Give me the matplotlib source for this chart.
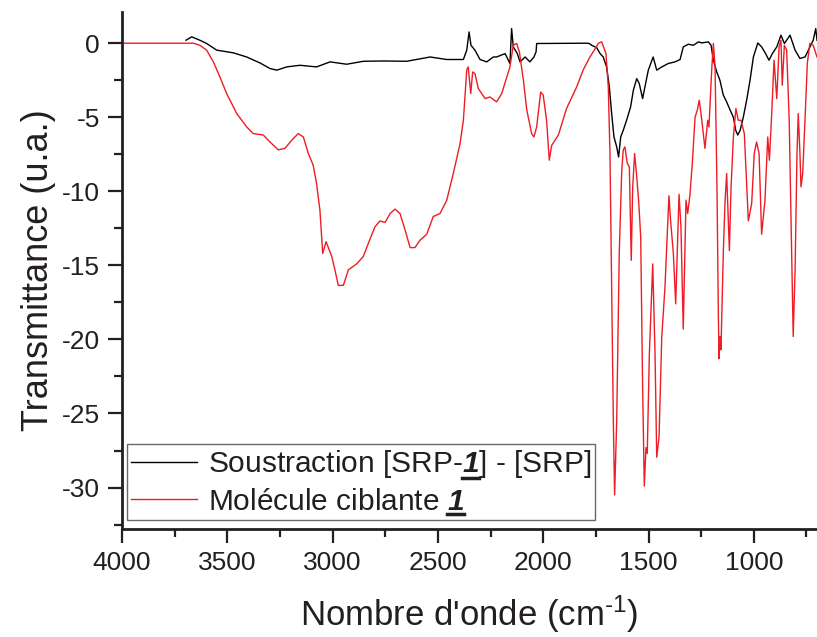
import matplotlib
matplotlib.use("Agg")
import matplotlib.pyplot as plt
from matplotlib.lines import Line2D
from matplotlib.ticker import MultipleLocator

plt.rcParams["font.family"] = ["Liberation Sans", "DejaVu Sans"]
plt.rcParams["mathtext.fontset"] = "custom"
plt.rcParams["mathtext.rm"] = "Liberation Sans"
plt.rcParams["mathtext.it"] = "Liberation Sans:italic"
plt.rcParams["mathtext.bf"] = "Liberation Sans:bold"
plt.rcParams["mathtext.bfit"] = "Liberation Sans:italic:bold"
plt.rcParams["mathtext.default"] = "regular"
plt.rcParams["axes.unicode_minus"] = False

TEXT_COLOR = "#231f20"

# Soustraction [SRP-1] - [SRP]  (wavenumber cm-1, transmittance u.a.)
sub_wn = [3696, 3669, 3630, 3598, 3550, 3471, 3408, 3345, 3297, 3265, 3218,
          3155, 3076, 3012, 2933, 2854, 2759, 2648, 2537, 2458, 2379, 2363,
          2352, 2343, 2324, 2300, 2268, 2237, 2221, 2181, 2158, 2150, 2142,
          2123, 2110, 2086, 2063, 2044, 2034, 2031, 1791, 1781, 1770, 1746,
          1730, 1715, 1699, 1686, 1675, 1664, 1651, 1642, 1632, 1620, 1604,
          1585, 1572, 1556, 1544, 1528, 1517, 1501, 1478, 1461, 1437, 1406,
          1374, 1350, 1335, 1311, 1287, 1263, 1247, 1216, 1203, 1192, 1176,
          1161, 1145, 1129, 1113, 1097, 1086, 1076, 1065, 1050, 1034, 1018,
          1002, 981, 963, 944, 928, 912, 891, 871, 855, 828, 804, 781, 757,
          741, 718, 706, 700]
sub_t = [0.2, 0.43, 0.2, -0.02, -0.47, -0.65, -0.93, -1.33, -1.71, -1.82,
         -1.6, -1.49, -1.6, -1.26, -1.42, -1.22, -1.2, -1.22, -0.93, -1.1,
         -1.1, -0.47, 0.76, -0.14, -0.47, -1.1, -1.26, -0.93, -0.93, -0.7,
         -1.37, 0.99, -0.25, -0.7, -1.26, -0.93, -1.26, -0.93, -0.59, -0.02,
         0.0, -0.02, -0.14, -0.3, -0.7, -0.93, -1.6, -2.95, -4.75, -6.33,
         -7.0, -7.68, -6.33, -5.88, -5.2, -4.3, -3.18, -2.39, -2.72, -3.74,
         -2.95, -1.82, -0.93, -1.82, -1.6, -1.37, -1.26, -1.1, -0.25, -0.07,
         -0.14, 0.09, 0.02, 0.09, -0.14, -1.15, -1.94, -2.5, -3.5, -3.96,
         -4.5, -5.0, -5.88, -6.2, -5.88, -5.0, -3.85, -2.5, -0.93, 0.02,
         -0.25, -0.7, -1.15, -0.7, -0.25, 0.54, -0.02, 0.54, -0.47, -1.03,
         -0.93, -0.47, 0.2, 0.99, 0.2]

# Molécule ciblante 1
mol_wn = [4000, 3661, 3630, 3598, 3566, 3535, 3503, 3455, 3408, 3377, 3329,
          3297, 3258, 3226, 3194, 3163, 3139, 3115, 3092, 3076, 3060, 3047,
          3031, 3004, 2989, 2973, 2949, 2925, 2886, 2854, 2830, 2799, 2775,
          2751, 2727, 2704, 2680, 2656, 2632, 2609, 2585, 2553, 2522, 2490,
          2458, 2427, 2395, 2379, 2363, 2356, 2344, 2335, 2324, 2308, 2276,
          2253, 2221, 2197, 2173, 2158, 2142, 2126, 2113, 2094, 2078, 2055,
          2044, 2031, 2012, 2000, 1984, 1971, 1960, 1928, 1889, 1841, 1810,
          1778, 1746, 1738, 1722, 1702, 1691, 1683, 1675, 1667, 1661, 1651,
          1639, 1627, 1620, 1612, 1601, 1591, 1582, 1575, 1566, 1556, 1547,
          1537, 1528, 1520, 1512, 1506, 1496, 1480, 1469, 1461, 1450, 1437,
          1422, 1403, 1395, 1382, 1371, 1355, 1346, 1335, 1322, 1314, 1303,
          1291, 1279, 1268, 1259, 1247, 1232, 1219, 1213, 1200, 1192, 1184,
          1175, 1168, 1165, 1161, 1156, 1145, 1137, 1129, 1116, 1108, 1097,
          1085, 1074, 1061, 1045, 1037, 1026, 1010, 998, 987, 975, 963, 947,
          934, 926, 915, 904, 891, 880, 871, 865, 855, 844, 832, 820, 813,
          804, 795, 789, 781, 776, 768, 757, 746, 734, 718, 700]
mol_t = [0.0, 0.0, -0.14, -0.47, -1.26, -2.28, -3.4, -4.75, -5.65, -6.1,
         -6.2, -6.67, -7.2, -7.1, -6.55, -6.1, -6.33, -7.45, -8.24, -9.48,
         -11.3, -14.2, -13.4, -14.4, -15.3, -16.35, -16.35, -15.3, -14.9,
         -14.4, -13.5, -12.4, -12.0, -12.1, -11.5, -11.2, -11.5, -12.6,
         -13.8, -13.8, -13.3, -12.9, -11.7, -11.5, -10.6, -8.8, -6.8, -5.2,
         -1.8, -1.6, -3.4, -1.94, -2.05, -3.06, -3.74, -3.63, -3.96, -3.4,
         -2.28, -1.6, -0.14, -0.02, -0.59, -2.5, -4.5, -6.1, -6.33, -5.65,
         -3.3, -3.5, -5.2, -7.9, -6.9, -6.2, -4.4, -2.95, -1.8, -0.93, -0.2,
         0.0, 0.09, -0.7, -2.95, -7.45, -16.5, -25.5, -30.5, -25.5, -14.2,
         -8.6, -7.2, -7.0, -8.1, -8.36, -14.66, -9.7, -7.45, -9.0, -10.6,
         -13.1, -23.2, -29.9, -27.3, -27.7, -21.0, -14.9, -21.0, -27.95,
         -26.6, -19.8, -16.5, -10.3, -12.0, -14.2, -17.6, -10.2, -12.4,
         -19.3, -10.6, -11.5, -10.2, -7.9, -5.0, -4.5, -3.85, -5.2, -7.1,
         -5.2, -5.65, -1.8, -0.02, -1.6, -9.7, -18.7, -21.3, -19.8, -20.7,
         -14.2, -10.8, -8.8, -14.0, -9.7, -6.33, -4.4, -5.2, -5.2, -6.1,
         -8.6, -12.0, -10.8, -7.45, -6.67, -7.45, -12.9, -10.6, -6.33, -7.9,
         -4.75, -1.15, -3.74, -0.25, 0.2, -2.84, -0.14, -0.47, -5.2, -14.2,
         -19.8, -15.3, -7.45, -4.75, -7.45, -9.7, -8.8, -5.2, -1.37, -0.02,
         -0.14, -0.93]

fig = plt.figure(figsize=(8.17, 6.37), dpi=100)
ax = fig.add_axes([0.1493, 0.1695, 0.8507, 0.8115])

ax.plot(sub_wn, sub_t, color="black", linewidth=1.0,
        label=r"Soustraction [SRP-$\mathbfit{1}$] - [SRP]")
ax.plot(mol_wn, mol_t, color="#ee1c24", linewidth=1.0,
        label=r"Molécule ciblante $\mathbfit{1}$")

ax.set_xlim(4000, 700)
ax.set_ylim(-32.8, 2.1)
ax.xaxis.set_major_locator(MultipleLocator(500))
ax.xaxis.set_minor_locator(MultipleLocator(250))
ax.yaxis.set_major_locator(MultipleLocator(5))
ax.yaxis.set_minor_locator(MultipleLocator(2.5))

for side in ("top", "right"):
    ax.spines[side].set_visible(False)
for side in ("left", "bottom"):
    ax.spines[side].set_linewidth(2.0)
    ax.spines[side].set_color(TEXT_COLOR)

ax.tick_params(which="major", direction="out", length=10, width=1.6,
               labelsize=19, colors=TEXT_COLOR, pad=6)
ax.tick_params(which="minor", direction="out", length=6, width=1.6,
               colors=TEXT_COLOR)

ax.set_xlabel(r"Nombre d'onde (cm$^{\text{-}1}$)", fontsize=25,
              color=TEXT_COLOR, labelpad=13)
ax.set_ylabel("Transmittance (u.a.)", fontsize=26, color=TEXT_COLOR,
              labelpad=4)

leg = ax.legend(loc="lower left", bbox_to_anchor=(0.0072, 0.0174),
                borderaxespad=0, fontsize=21.5, frameon=True, fancybox=False,
                edgecolor="#444444", handlelength=2.2, handletextpad=0.35,
                labelspacing=0.25, borderpad=0.15)
leg.get_frame().set_linewidth(1.0)
for t in leg.get_texts():
    t.set_color(TEXT_COLOR)

# underline the bold-italic "1" in both legend labels
fig.canvas.draw()
renderer = fig.canvas.get_renderer()
texts = leg.get_texts()
prop = texts[0].get_fontproperties()
tmp = fig.text(0, 0, "Soustraction [SRP-", fontproperties=prop)
w_prefix = tmp.get_window_extent(renderer).width
tmp.set_text(r"$\mathbfit{1}$")
w_one = tmp.get_window_extent(renderer).width
tmp.remove()

for t, start in zip(texts, ["prefix", "end"]):
    bb = t.get_window_extent(renderer)
    if start == "prefix":
        x0 = bb.x0 + w_prefix
    else:
        x0 = bb.x1 - w_one
    y = bb.y0 + 2
    fig.add_artist(Line2D([x0 / fig.bbox.width, (x0 + w_one) / fig.bbox.width],
                          [y / fig.bbox.height, y / fig.bbox.height],
                          color=TEXT_COLOR, linewidth=2.5))

fig.savefig("out.png", dpi=100)
